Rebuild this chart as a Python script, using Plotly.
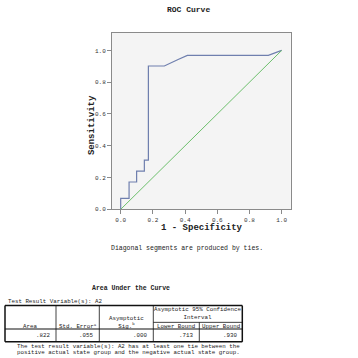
import plotly.graph_objects as go

# ---- data ----
fpr = [0.0, 0.0, 0.052, 0.052, 0.099, 0.099, 0.147, 0.147, 0.172, 0.172, 0.271, 0.31, 0.36, 0.414, 0.917, 1.0]
tpr = [0.0, 0.069, 0.069, 0.172, 0.172, 0.241, 0.241, 0.310, 0.310, 0.902, 0.902, 0.922, 0.945, 0.969, 0.969, 1.0]
ref_x = [0.0, 1.0]
ref_y = [0.0, 1.0]
tick_vals = [0.0, 0.2, 0.4, 0.6, 0.8, 1.0]
tick_text = ["0.0", "0.2", "0.4", "0.6", "0.8", "1.0"]

auc_headers = ["Area", "Std. Error<sup>a</sup>", "Asymptotic<br>Sig.<sup>b</sup>", "Lower Bound", "Upper Bound"]
auc_values = [".822", ".055", ".000", ".713", ".930"]

W = H = 358
MONO = "Liberation Mono, DejaVu Sans Mono, monospace"

def px(x):
    return x / W

def py(y):
    return 1 - y / H

fig = go.Figure()
fig.add_trace(go.Scatter(x=fpr, y=tpr, mode="lines",
                         line=dict(color="#6f7fae", width=1.2), hoverinfo="skip"))
fig.add_trace(go.Scatter(x=ref_x, y=ref_y, mode="lines",
                         line=dict(color="#6cbf6c", width=1), hoverinfo="skip"))

axis_common = dict(
    showgrid=False, zeroline=False, showline=True, mirror=True,
    linecolor="#8a8a8a", linewidth=1, ticks="outside", ticklen=4,
    tickcolor="#8a8a8a", tickvals=tick_vals, ticktext=tick_text,
    tickfont=dict(family=MONO, size=6, color="#333333"),
)

fig.update_layout(
    width=W, height=H, autosize=False,
    margin=dict(l=0, r=0, t=0, b=0),
    paper_bgcolor="white", plot_bgcolor="#f4f4f4",
    showlegend=False,
    xaxis=dict(domain=[px(112), px(290.7)], range=[-0.054, 1.056], **axis_common),
    yaxis=dict(domain=[py(211.7), py(33)], range=[0, 1.112], **axis_common),
)

ann = []
def text(x, y, s, size=6, xanchor="center", bold=False, angle=0):
    ann.append(dict(x=px(x), y=py(y), xref="paper", yref="paper", text=("<b>%s</b>" % s) if bold else s,
                    showarrow=False, xanchor=xanchor, yanchor="middle", textangle=angle,
                    font=dict(family=MONO, size=size, color="#222222")))

text(188, 10, "ROC Curve", size=8, bold=True)
text(201.5, 231, "1 - Specificity", size=9, bold=True)
text(91.5, 127, "Sensitivity", size=9, bold=True, angle=-90)
text(187, 251.5, "Diagonal segments are produced by ties.", size=6.5)

# table
text(131, 292, "Area Under the Curve", size=6.5, bold=True)
text(6, 304.5, "Test Result Variable(s): A2", size=5.8, xanchor="left")

col_centers = [30.5, 77.5, 126.5, 176.3, 220.8]
for i, h in enumerate(auc_headers):
    if i == 2:
        text(col_centers[i], 326.5, h, size=5.8)
    else:
        text(col_centers[i], 329.8, h, size=5.8)
text(197.5, 317.5, "Asymptotic 95% Confidence<br>Interval", size=5.8)

val_right = [52, 94.5, 148.5, 195, 239.5]
for xr, v in zip(val_right, auc_values):
    text(xr, 339.5, v, size=5.8, xanchor="right")

text(15, 350.5, "The test result variable(s): A2 has at least one tie between the", size=5.8, xanchor="left")
text(15, 356.5, "positive actual state group and the negative actual state group.", size=5.8, xanchor="left")

shapes = []
def line(x0, y0, x1, y1, w=1):
    shapes.append(dict(type="line", xref="paper", yref="paper",
                       x0=px(x0), y0=py(y0), x1=px(x1), y1=py(y1),
                       line=dict(color="#111111", width=w)))

line(5, 309, 242.3, 309, 1.5)
line(5, 345.7, 242.3, 345.7, 1.5)
line(5, 309, 5, 345.7, 1.5)
line(242.3, 309, 242.3, 345.7, 1.5)
line(5, 332.7, 242.3, 332.7, 1.2)
line(153.3, 326, 242.3, 326, 0.8)
for xv in [56, 99.3, 153.3]:
    line(xv, 309, xv, 345.7, 0.8)
line(199.3, 326, 199.3, 345.7, 0.8)

fig.update_layout(annotations=ann, shapes=shapes)
fig.write_html("out.html", config={"displayModeBar": False},
               post_script="document.body.style.margin='0px';document.body.style.overflow='hidden';")
